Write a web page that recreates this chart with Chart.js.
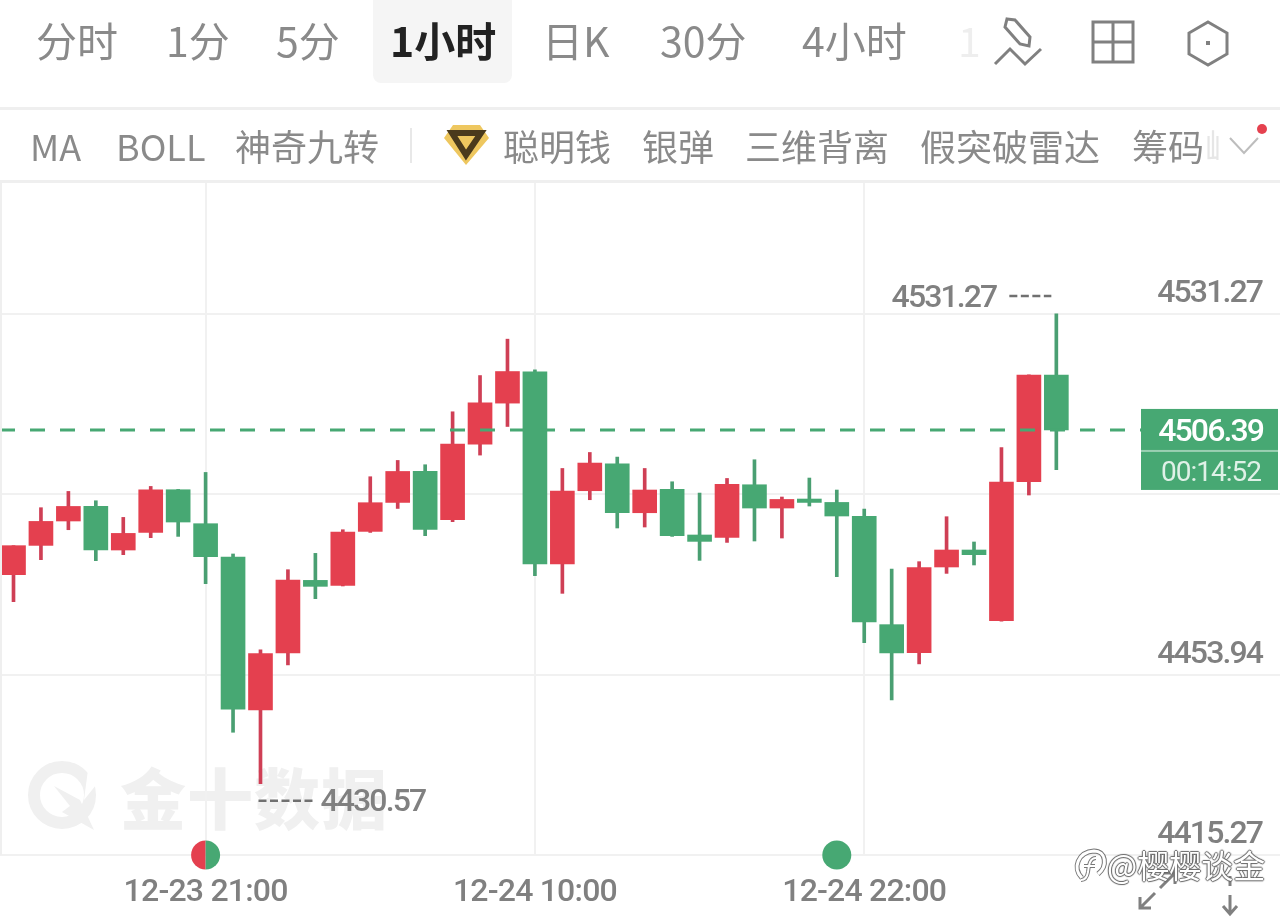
<!DOCTYPE html>
<html>
<head>
<meta charset="utf-8">
<title>1小时</title>
<script src="https://cdn.jsdelivr.net/npm/chart.js@4"></script>
<style>
  html, body { margin: 0; padding: 0; background: #fff; width: 1280px; height: 917px; overflow: hidden; }
  body { position: relative; font-family: "Noto Sans CJK SC", sans-serif; }
  .t { position: absolute; white-space: nowrap; color: #8a8a8a; transform: translateY(-50%); line-height: 1; }
  .top { font-size: 41px; }
  .sub { font-size: 36px; }
  .line { position: absolute; background: #efefef; }
  svg { position: absolute; overflow: visible; }
  canvas { position: absolute; left: 0; top: 0; }
  #wm { font-size: 66px; font-weight: 900; color: #f0f0f0; left: 120px; top: 795px; letter-spacing: 1px; }
  #weibo { font-size: 32px; color: #fff; left: 1107px; top: 864px; z-index: 3;
    text-shadow: 1px 0 1px #666, -1px 0 1px #666, 0 1px 1px #666, 0 -1px 1px #666; }
</style>
</head>
<body>
<div class="t" id="wm">金十数据</div>
<svg style="left:0;top:0" width="130" height="860">
  <circle cx="62" cy="795" r="28" fill="none" stroke="#f0f0f0" stroke-width="12"/>
  <path d="M54 786 L70 806 L62 812 L94 830 L80 800 Z" fill="#f0f0f0"/>
  <path d="M88 770 L104 775 L84 800 Z" fill="#fff"/>
</svg>

<canvas id="chart" width="1280" height="917"></canvas>

<div class="line" style="left:0;top:107px;width:1280px;height:3px"></div>
<div class="line" style="left:0;top:180px;width:1280px;height:3px"></div>
<div class="line" style="left:0;top:182px;width:2px;height:673px"></div>
<div style="position:absolute;left:373px;top:0;width:139px;height:83px;background:#f5f5f5;border-radius:0 0 8px 8px"></div>

<div class="t top" style="left:36px;top:39px">分时</div>
<div class="t top" style="left:166px;top:39px">1分</div>
<div class="t top" style="left:276px;top:39px">5分</div>
<div class="t top" style="left:390px;top:39px;color:#222;font-weight:700">1小时</div>
<div class="t top" style="left:542px;top:39px">日K</div>
<div class="t top" style="left:660px;top:39px">30分</div>
<div class="t top" style="left:802px;top:39px">4小时</div>
<div class="t top" style="left:958px;top:39px;color:#eeeeee">1</div>

<svg style="left:0;top:0" width="1280" height="182" fill="none" stroke="#808080" stroke-width="3">
  <path d="M1007 19 L1015 20 L1030 37 L1029 46 L1020 44 L1005 27 Z"/>
  <path d="M995 64 L1010 49 L1025 64 L1041 49"/>
  <rect x="1093" y="22" width="40" height="40"/>
  <path d="M1113 22 V62 M1093 42 H1133"/>
  <path d="M1208 22 L1227 33 V54 L1208 65 L1189 54 V33 Z"/>
  <rect x="1206" y="41" width="4" height="4" fill="#808080" stroke="none"/>
  <path d="M1230 138 L1244 153 L1258 138" stroke="#bdbdbd" stroke-width="2"/>
  <circle cx="1262" cy="129" r="5" fill="#e5414f" stroke="none"/>
  <path d="M411 128 V163" stroke="#e8e8e8" stroke-width="2"/>
  <path d="M453 125 H480 L489 138 L466 165 L444 138 Z" fill="#eec75f" stroke="none"/>
  <path d="M452 133 H481 L466 155 Z" fill="none" stroke="#4a3a1c" stroke-width="6"/>
</svg>

<div class="t sub" style="left:30px;top:145px">MA</div>
<div class="t sub" style="left:116px;top:145px">BOLL</div>
<div class="t sub" style="left:235px;top:145px">神奇九转</div>
<div class="t sub" style="left:503px;top:145px">聪明钱</div>
<div class="t sub" style="left:642px;top:145px">银弹</div>
<div class="t sub" style="left:745px;top:145px">三维背离</div>
<div class="t sub" style="left:920px;top:145px">假突破雷达</div>
<div class="t sub" style="left:1132px;top:145px">筹码</div>
<div class="t sub" style="left:1205px;top:145px;color:#e6e6e6;width:14px;overflow:hidden">峰</div>

<svg style="left:0;top:0;z-index:2" width="1280" height="917" fill="none" stroke="#808080" stroke-width="3">
  <path d="M1140 908 L1155 893 M1140 897 V908 H1151"/>
  <path d="M1160 888 L1175 873 M1164 873 H1175 V884"/>
  <path d="M1230 895 V914 M1223 906 L1230 914 L1237 906"/>
  <path d="M1230 876 V886"/>
</svg>
<svg style="left:0;top:0;z-index:3" width="1280" height="917" fill="none" stroke="#fff" stroke-width="3">
  <path d="M1082 878 C1072 868 1078 852 1094 851 C1106 851 1108 866 1098 874" stroke="#777" stroke-width="5"/>
  <path d="M1082 878 C1072 868 1078 852 1094 851 C1106 851 1108 866 1098 874"/>
  <path d="M1096 858 C1090 858 1089 864 1088 872 C1087 878 1084 880 1081 880 M1084 866 H1095" stroke="#777" stroke-width="4"/>
  <path d="M1096 858 C1090 858 1089 864 1088 872 C1087 878 1084 880 1081 880 M1084 866 H1095" stroke-width="2"/>
</svg>
<div class="t" id="weibo">@樱樱谈金</div>

<script>
  const opens = [4475.36, 4481.64, 4486.87, 4489.99, 4480.65, 4484.42, 4493.57, 4486.29, 4479.15, 4446.38, 4458.59, 4474.14, 4473.07, 4484.64, 4490.85, 4497.49, 4487.14, 4503.36, 4512.14, 4518.85, 4477.66, 4493.36, 4499.14, 4488.64, 4493.64, 4483.87, 4483.35, 4494.64, 4489.65, 4491.58, 4490.85, 4487.85, 4464.65, 4458.66, 4477.01, 4480.65, 4465.51, 4495.28, 4518.14]
  const closes = [4481.58, 4486.78, 4489.99, 4480.65, 4484.21, 4493.57, 4486.65, 4479.22, 4446.51, 4458.44, 4474.23, 4472.86, 4484.51, 4490.79, 4497.49, 4485.07, 4503.36, 4512.21, 4518.91, 4477.66, 4493.29, 4499.29, 4488.64, 4493.51, 4483.72, 4482.50, 4494.71, 4489.65, 4491.49, 4490.85, 4487.94, 4465.23, 4458.59, 4476.86, 4480.65, 4479.65, 4495.22, 4518.14, 4506.39]
  const highs = [4481.58, 4489.72, 4493.21, 4491.21, 4487.64, 4494.28, 4493.64, 4497.28, 4479.80, 4459.23, 4476.43, 4479.93, 4485.00, 4496.36, 4499.85, 4498.93, 4510.28, 4518.05, 4525.85, 4519.27, 4498.13, 4501.56, 4500.57, 4498.13, 4495.28, 4492.86, 4495.99, 4500.00, 4492.01, 4496.08, 4493.51, 4489.44, 4476.58, 4478.15, 4487.79, 4482.37, 4502.63, 4518.20, 4531.27]
  const lows = [4469.58, 4478.58, 4485.00, 4478.36, 4479.65, 4483.29, 4483.57, 4473.44, 4441.58, 4430.57, 4456.02, 4470.22, 4472.94, 4484.42, 4489.56, 4483.72, 4486.72, 4501.00, 4507.13, 4475.15, 4471.36, 4491.43, 4485.37, 4485.58, 4483.57, 4478.43, 4482.28, 4482.58, 4483.22, 4490.08, 4474.94, 4460.80, 4448.52, 4456.24, 4475.64, 4477.44, 4465.40, 4492.44, 4497.85]

  const xTickSlots = [7, 19, 31]
  const xTickLabels = ['12-23 21:00', '12-24 10:00', '12-24 22:00']
  const yTickValues = [4559.54, 4531.27, 4492.60, 4453.94, 4415.27]
  const yTickLabels = ['', '4531.27', '', '4453.94', '4415.27']

  const lastPrice = '4506.39'
  const countdown = '00:14:52'
  const highLabel = '4531.27'
  const lowLabel = '4430.57'
  const mixedDotSlot = 7
  const greenDotSlot = 30

  const RED = '#e4404f'
  const GREEN = '#47a873'
  const GRID = '#f1f1f1'
  const LABEL = '#808080'
  const NARROW = '-1.9px'

  const slots = opens.map((o, i) => i)
  const isUp = (i) => closes[i] >= opens[i]

  // draws the price box, hi/lo notes and the round markers on the axis
  const notes = {
    id: 'notes',
    beforeDraw(chart) {
      const { ctx, scales: { x } } = chart
      ctx.letterSpacing = NARROW
      // the date labels are wider set than the prices
      const drawLabels = x.drawLabels
      x.drawLabels = (area) => {
        ctx.letterSpacing = '-0.8px'
        drawLabels.call(x, area)
        ctx.letterSpacing = NARROW
      }
    },
    afterDraw(chart) {
      const { ctx, scales: { x, y } } = chart
      ctx.save()

      // highest and lowest
      let hi = highs.indexOf(Math.max(...highs))
      let lo = lows.indexOf(Math.min(...lows))
      ctx.font = '500 32px Roboto'
      ctx.fillStyle = LABEL
      ctx.textBaseline = 'middle'
      ctx.strokeStyle = '#707070'
      ctx.lineWidth = 2.5
      ctx.setLineDash([8, 3.5])

      let hx = x.getPixelForValue(hi)
      let hy = y.getPixelForValue(highs[hi]) - 18
      ctx.textAlign = 'right'
      ctx.fillText(highLabel, hx - 60, hy + 3)
      ctx.beginPath()
      ctx.moveTo(hx - 47, hy)
      ctx.lineTo(hx - 5, hy)
      ctx.stroke()

      let lx = x.getPixelForValue(lo)
      let ly = y.getPixelForValue(lows[lo]) + 17
      ctx.textAlign = 'left'
      ctx.fillText(lowLabel, lx + 60, ly + 2)
      ctx.beginPath()
      ctx.moveTo(lx - 2, ly)
      ctx.lineTo(lx + 55, ly)
      ctx.stroke()
      ctx.setLineDash([])

      // last price box
      let py = y.getPixelForValue(closes[closes.length - 1])
      ctx.fillStyle = GREEN
      ctx.fillRect(1141, py - 21, 137, 81)
      ctx.fillStyle = 'rgba(255,255,255,0.45)'
      ctx.fillRect(1141, py + 20, 137, 2)
      ctx.textAlign = 'right'
      ctx.fillStyle = '#fff'
      ctx.font = '500 32px Roboto'
      ctx.fillText(lastPrice, 1263, py + 3)
      ctx.letterSpacing = '-1px'
      ctx.fillStyle = '#dff1e7'
      ctx.font = '400 28px Roboto'
      ctx.fillText(countdown, 1261, py + 44)

      // axis markers
      let by = chart.chartArea.bottom
      let mx = x.getPixelForValue(mixedDotSlot)
      ctx.fillStyle = RED
      ctx.beginPath()
      ctx.arc(mx, by, 14.5, Math.PI / 2, Math.PI * 1.5)
      ctx.fill()
      ctx.fillStyle = GREEN
      ctx.beginPath()
      ctx.arc(mx, by, 14.5, -Math.PI / 2, Math.PI / 2)
      ctx.fill()
      ctx.beginPath()
      ctx.arc(x.getPixelForValue(greenDotSlot), by, 14.5, 0, Math.PI * 2)
      ctx.fill()
      ctx.restore()
    },
  }

  Chart.defaults.font.family = 'Roboto'

  new Chart(document.getElementById('chart').getContext('2d'), {
    type: 'bar',
    data: {
      datasets: [
        {
          label: 'price',
          type: 'line',
          order: 1,
          data: [{ x: -0.492, y: closes[closes.length - 1] }, { x: 41.1, y: closes[closes.length - 1] }],
          borderColor: GREEN,
          borderWidth: 3,
          borderDash: [15, 15],
          pointRadius: 0,
        },
        {
          label: 'body',
          order: 2,
          data: slots.map((i) => ({ x: i, y: [opens[i], closes[i]] })),
          backgroundColor: slots.map((i) => (isUp(i) ? RED : GREEN)),
          barThickness: 24,
          grouped: false,
          minBarLength: 2,
        },
        {
          label: 'wick',
          order: 3,
          data: slots.map((i) => ({ x: i, y: [lows[i], highs[i]] })),
          backgroundColor: slots.map((i) => (isUp(i) ? '#cf3f55' : '#4a9f72')),
          barThickness: 3,
          grouped: false,
        },
      ],
    },
    options: {
      responsive: false,
      animation: false,
      layout: { padding: { top: 182 } },
      plugins: { legend: { display: false }, tooltip: { enabled: false } },
      scales: {
        x: {
          type: 'linear',
          min: -0.492,
          max: 46.15,
          offset: false,
          afterBuildTicks: (s) => { s.ticks = xTickSlots.map((v) => ({ value: v })) },
          afterFit: (s) => { s.height = 62 },
          grid: { color: GRID, lineWidth: 2, drawTicks: false, offset: false },
          border: { display: false },
          ticks: {
            autoSkip: false,
            maxRotation: 0,
            padding: 19,
            color: LABEL,
            font: { size: 32, weight: 500 },
            callback: (v) => xTickLabels[xTickSlots.indexOf(v)],
          },
        },
        y: {
          position: 'right',
          min: 4415.27,
          max: 4559.54,
          afterBuildTicks: (s) => { s.ticks = yTickValues.map((v) => ({ value: v })) },
          grid: { color: GRID, lineWidth: 2, drawTicks: false },
          border: { display: false },
          ticks: {
            mirror: true,
            padding: -18,
            labelOffset: -20,
            autoSkip: false,
            color: LABEL,
            font: { size: 32, weight: 500 },
            callback: (v) => yTickLabels[yTickValues.indexOf(v)],
          },
        },
      },
    },
    plugins: [notes],
  })
</script>
</body>
</html>
